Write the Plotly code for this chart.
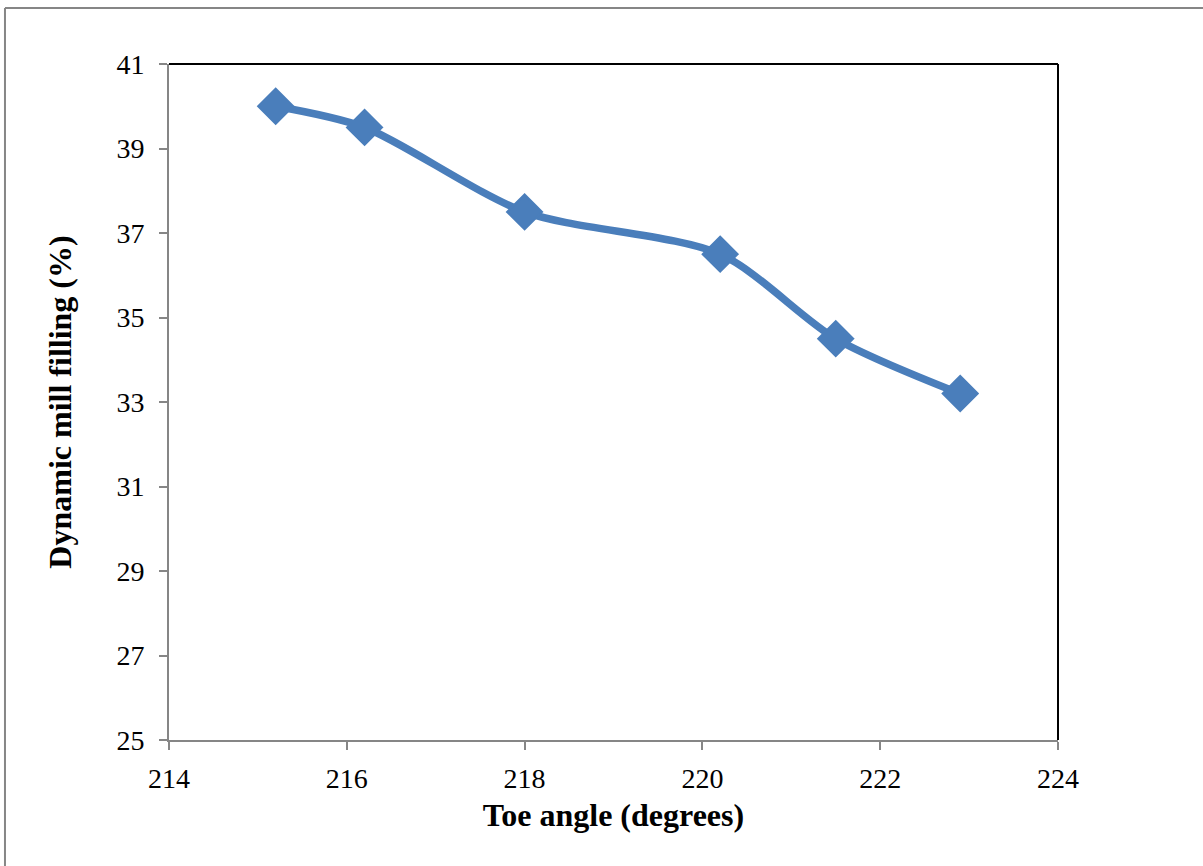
import plotly.graph_objects as go

# Toe angle vs dynamic mill filling
toe_angle = [215.2, 216.2, 218.0, 220.2, 221.5, 222.9]
mill_filling = [40.0, 39.5, 37.5, 36.5, 34.5, 33.2]

x_ticks = [214, 216, 218, 220, 222, 224]
y_ticks = [25, 27, 29, 31, 33, 35, 37, 39, 41]

BLUE = "#4a7ebb"
GREY = "#868686"
FONT = "Liberation Serif, Times New Roman, serif"

fig = go.Figure()
fig.add_trace(go.Scatter(
    x=toe_angle, y=mill_filling,
    mode="lines+markers",
    line=dict(color=BLUE, width=7.5, shape="spline", smoothing=0.8),
    marker=dict(symbol="diamond", size=27, color=BLUE, line=dict(color=BLUE, width=2)),
    showlegend=False,
))

fig.update_layout(
    width=1203, height=866,
    margin=dict(l=169, r=145, t=64, b=126),
    paper_bgcolor="white", plot_bgcolor="white",
    font=dict(family=FONT, color="black"),
    xaxis=dict(
        range=[214, 224], tickvals=x_ticks, ticktext=[str(v) for v in x_ticks],
        showgrid=False, zeroline=False,
        showline=True, linecolor=GREY, linewidth=2,
        ticks="outside", ticklen=8, tickwidth=2, tickcolor=GREY,
        ticklabelstandoff=4,
        tickfont=dict(size=28, family=FONT, color="black"),
        title=dict(text="<b>Toe angle (degrees)</b>", font=dict(size=32, family=FONT, color="black"), standoff=11),
    ),
    yaxis=dict(
        range=[25, 41], tickvals=y_ticks, ticktext=[str(v) for v in y_ticks],
        showgrid=False, zeroline=False,
        showline=True, linecolor=GREY, linewidth=2,
        ticks="outside", ticklen=8, tickwidth=2, tickcolor=GREY,
        ticklabelstandoff=9,
        tickfont=dict(size=28, family=FONT, color="black"),
        title=dict(text="<b>Dynamic mill filling (%)</b>", font=dict(size=32, family=FONT, color="black"), standoff=35),
    ),
    shapes=[
        # black top and right frame of the plot area
        dict(type="line", xref="paper", yref="paper", x0=0, x1=1, y0=1, y1=1,
             line=dict(color="black", width=2)),
        dict(type="line", xref="paper", yref="paper", x0=1, x1=1, y0=0, y1=1,
             line=dict(color="black", width=2)),
        # outer chart border (left and top edges)
        dict(type="line", xref="paper", yref="paper", x0=-0.1845, x1=1.2, y0=1.0828, y1=1.0828,
             line=dict(color=GREY, width=2)),
        dict(type="line", xref="paper", yref="paper", x0=-0.1845, x1=-0.1845, y0=-0.2, y1=1.0828,
             line=dict(color=GREY, width=2)),
    ],
)

fig.write_html("out.html")
